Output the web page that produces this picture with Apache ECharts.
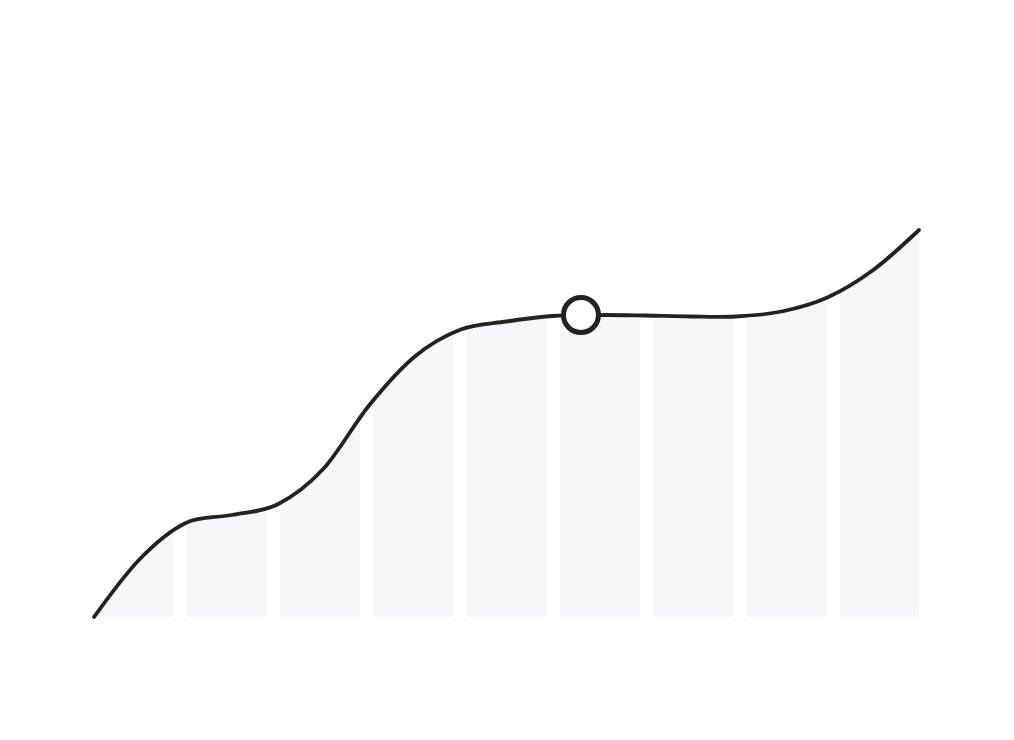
<!DOCTYPE html>
<html>
<head>
<meta charset="utf-8">
<script src="https://cdn.jsdelivr.net/npm/echarts@6/dist/echarts.min.js"></script>
<style>
html,body{margin:0;padding:0;background:#fff;}
#chart{width:1014px;height:740px;}
</style>
</head>
<body>
<div id="chart"></div>
<script>
// x positions (band units, 9 bands) and values
var xs = [0.083, 0.574, 1.065, 1.556, 2.047, 2.538, 3.029, 3.520, 4.011, 4.502, 4.994, 5.485, 5.976, 6.467, 6.958, 7.449, 7.940, 8.431, 8.922];
var ys = [0, 11.6, 18.8, 20.4, 22.5, 29.6, 42.3, 52.1, 57.5, 59.1, 60.2, 60.4, 60.3, 60.1, 60.1, 61.1, 63.9, 69.4, 77.4];
var markerX = [5.30];
var markerY = [60.4];

var lineData = xs.map(function (x, i) { return [x, ys[i]]; });
var markerData = markerX.map(function (x, i) { return [x, markerY[i]]; });

// smooth cubic (central-difference tangents) on pixel points
function tangents(P) {
  var n = P.length, t = new Array(n);
  for (var i = 1; i < n - 1; i++) {
    t[i] = (P[i + 1][1] - P[i - 1][1]) / (P[i + 1][0] - P[i - 1][0]);
  }
  var ha = P[1][0] - P[0][0];
  t[0] = (3 * (P[1][1] - P[0][1]) / ha - t[1]) / 2;
  var hb = P[n - 1][0] - P[n - 2][0];
  t[n - 1] = (3 * (P[n - 1][1] - P[n - 2][1]) / hb - t[n - 2]) / 2;
  return t;
}
function curvePath(P) {
  var t = tangents(P);
  var d = 'M' + P[0][0] + ' ' + P[0][1];
  for (var i = 0; i < P.length - 1; i++) {
    var h = (P[i + 1][0] - P[i][0]) / 3;
    d += ' C' + (P[i][0] + h) + ' ' + (P[i][1] + t[i] * h) + ' ' +
         (P[i + 1][0] - h) + ' ' + (P[i + 1][1] - t[i + 1] * h) + ' ' +
         P[i + 1][0] + ' ' + P[i + 1][1];
  }
  return d;
}
function makeRender(kind) {
  return function (params, api) {
    if (params.dataIndex !== 0) return null;
    var P = lineData.map(function (d) { return api.coord(d); });
    var d = curvePath(P);
    if (kind === 'area') {
      var base = api.coord([0, 0])[1];
      d += ' L' + P[P.length - 1][0] + ' ' + base + ' L' + P[0][0] + ' ' + base + ' Z';
      return {type: 'path', shape: {pathData: d}, style: {fill: '#f6f7fb', stroke: null}};
    }
    return {type: 'path', shape: {pathData: d},
      style: {fill: null, stroke: '#222222', lineWidth: 3.8, lineCap: 'round', lineJoin: 'round'}};
  };
}

var chart = echarts.init(document.getElementById('chart'), null, {renderer: 'canvas'});
chart.setOption({
  animation: false,
  backgroundColor: '#ffffff',
  grid: {left: 86.3, right: 87.7, top: 117, bottom: 123, containLabel: false},
  xAxis: {
    type: 'value', min: 0, max: 9, interval: 1, z: 2,
    axisLine: {show: false}, axisTick: {show: false}, axisLabel: {show: false},
    splitLine: {show: true, lineStyle: {color: '#ffffff', width: 14}}
  },
  yAxis: {type: 'value', min: 0, max: 100, show: false},
  series: [
    {type: 'custom', data: lineData, z: 1, clip: false, silent: true,
     encode: {x: 0, y: 1}, renderItem: makeRender('area')},
    {type: 'custom', data: lineData, z: 3, clip: false, silent: true,
     encode: {x: 0, y: 1}, renderItem: makeRender('line')},
    {type: 'scatter', data: markerData, z: 4, symbol: 'circle', symbolSize: 35, silent: true,
     itemStyle: {color: '#ffffff', borderColor: '#222222', borderWidth: 5, opacity: 1}}
  ]
});
</script>
</body>
</html>
